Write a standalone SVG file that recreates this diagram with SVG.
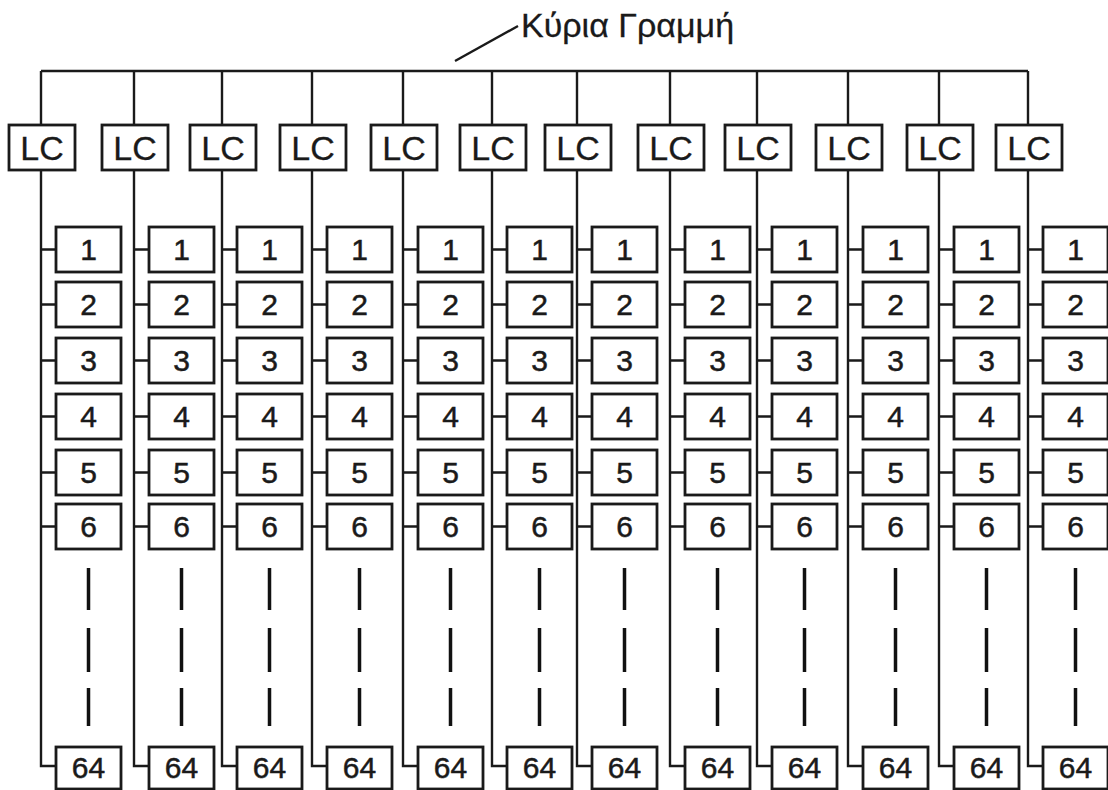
<svg xmlns="http://www.w3.org/2000/svg" width="1108" height="790" viewBox="0 0 1108 790">
<style>
.bx{fill:#fff;stroke:#1a1a1a;stroke-width:2.8}
.t{font-family:"Liberation Sans",Arial,sans-serif;font-size:30px;fill:#1a1a1a;stroke:#1a1a1a;stroke-width:0.5;text-anchor:middle}
.lc{font-size:34px;stroke-width:0.3}
.ttl{font-size:34px;text-anchor:start;stroke-width:0.3}
.ln{fill:none;stroke:#1a1a1a;stroke-width:2.4}
.ds{fill:none;stroke:#111;stroke-width:3.5}
</style>
<rect width="1108" height="790" fill="#fff"/>
<g id="title">
<line class="ln" x1="455" y1="61" x2="518" y2="26"/>
<text class="t ttl" x="521" y="37">Κύρια Γραμμή</text>
</g>
<g id="connectors">
<path class="ln" d="M41 71H1028"/>
<path class="ln" d="M41 71V125M41 170V766H56M41 249.5H56M41 304.5H56M41 360.5H56M41 416.5H56M41 472.5H56M41 526.5H56"/>
<path class="ln" d="M134 71V125M134 170V766H149M134 249.5H149M134 304.5H149M134 360.5H149M134 416.5H149M134 472.5H149M134 526.5H149"/>
<path class="ln" d="M222 71V125M222 170V766H237M222 249.5H237M222 304.5H237M222 360.5H237M222 416.5H237M222 472.5H237M222 526.5H237"/>
<path class="ln" d="M312 71V125M312 170V766H327M312 249.5H327M312 304.5H327M312 360.5H327M312 416.5H327M312 472.5H327M312 526.5H327"/>
<path class="ln" d="M403 71V125M403 170V766H418M403 249.5H418M403 304.5H418M403 360.5H418M403 416.5H418M403 472.5H418M403 526.5H418"/>
<path class="ln" d="M492 71V125M492 170V766H507M492 249.5H507M492 304.5H507M492 360.5H507M492 416.5H507M492 472.5H507M492 526.5H507"/>
<path class="ln" d="M577 71V125M577 170V766H592M577 249.5H592M577 304.5H592M577 360.5H592M577 416.5H592M577 472.5H592M577 526.5H592"/>
<path class="ln" d="M670 71V125M670 170V766H685M670 249.5H685M670 304.5H685M670 360.5H685M670 416.5H685M670 472.5H685M670 526.5H685"/>
<path class="ln" d="M757 71V125M757 170V766H772M757 249.5H772M757 304.5H772M757 360.5H772M757 416.5H772M757 472.5H772M757 526.5H772"/>
<path class="ln" d="M848 71V125M848 170V766H863M848 249.5H863M848 304.5H863M848 360.5H863M848 416.5H863M848 472.5H863M848 526.5H863"/>
<path class="ln" d="M939 71V125M939 170V766H954M939 249.5H954M939 304.5H954M939 360.5H954M939 416.5H954M939 472.5H954M939 526.5H954"/>
<path class="ln" d="M1028 71V125M1028 170V766H1043M1028 249.5H1043M1028 304.5H1043M1028 360.5H1043M1028 416.5H1043M1028 472.5H1043M1028 526.5H1043"/>
</g>
<g id="continuation">
<path class="ds" d="M88.5 568V610M88.5 628V672M88.5 688V726M181.5 568V610M181.5 628V672M181.5 688V726M269.5 568V610M269.5 628V672M269.5 688V726M359.5 568V610M359.5 628V672M359.5 688V726M450.5 568V610M450.5 628V672M450.5 688V726M539.5 568V610M539.5 628V672M539.5 688V726M624.5 568V610M624.5 628V672M624.5 688V726M717.5 568V610M717.5 628V672M717.5 688V726M804.5 568V610M804.5 628V672M804.5 688V726M895.5 568V610M895.5 628V672M895.5 688V726M986.5 568V610M986.5 628V672M986.5 688V726M1075.5 568V610M1075.5 628V672M1075.5 688V726"/>
</g>
<g id="c1">
<g id="c1-lc"><rect class="bx" x="9" y="125" width="66" height="45"/><text class="t lc" x="42" y="160">LC</text></g>
<g id="c1-1"><rect class="bx" x="56" y="227" width="65" height="45"/><text class="t" x="88.5" y="260">1</text></g>
<g id="c1-2"><rect class="bx" x="56" y="282" width="65" height="45"/><text class="t" x="88.5" y="315">2</text></g>
<g id="c1-3"><rect class="bx" x="56" y="338" width="65" height="45"/><text class="t" x="88.5" y="371">3</text></g>
<g id="c1-4"><rect class="bx" x="56" y="394" width="65" height="45"/><text class="t" x="88.5" y="427">4</text></g>
<g id="c1-5"><rect class="bx" x="56" y="450" width="65" height="45"/><text class="t" x="88.5" y="483">5</text></g>
<g id="c1-6"><rect class="bx" x="56" y="504" width="65" height="45"/><text class="t" x="88.5" y="537">6</text></g>
<g id="c1-64"><rect class="bx" x="56" y="747" width="65" height="42"/><text class="t" x="88.5" y="778">64</text></g>
</g>
<g id="c2">
<g id="c2-lc"><rect class="bx" x="102" y="125" width="66" height="45"/><text class="t lc" x="135" y="160">LC</text></g>
<g id="c2-1"><rect class="bx" x="149" y="227" width="65" height="45"/><text class="t" x="181.5" y="260">1</text></g>
<g id="c2-2"><rect class="bx" x="149" y="282" width="65" height="45"/><text class="t" x="181.5" y="315">2</text></g>
<g id="c2-3"><rect class="bx" x="149" y="338" width="65" height="45"/><text class="t" x="181.5" y="371">3</text></g>
<g id="c2-4"><rect class="bx" x="149" y="394" width="65" height="45"/><text class="t" x="181.5" y="427">4</text></g>
<g id="c2-5"><rect class="bx" x="149" y="450" width="65" height="45"/><text class="t" x="181.5" y="483">5</text></g>
<g id="c2-6"><rect class="bx" x="149" y="504" width="65" height="45"/><text class="t" x="181.5" y="537">6</text></g>
<g id="c2-64"><rect class="bx" x="149" y="747" width="65" height="42"/><text class="t" x="181.5" y="778">64</text></g>
</g>
<g id="c3">
<g id="c3-lc"><rect class="bx" x="190" y="125" width="66" height="45"/><text class="t lc" x="223" y="160">LC</text></g>
<g id="c3-1"><rect class="bx" x="237" y="227" width="65" height="45"/><text class="t" x="269.5" y="260">1</text></g>
<g id="c3-2"><rect class="bx" x="237" y="282" width="65" height="45"/><text class="t" x="269.5" y="315">2</text></g>
<g id="c3-3"><rect class="bx" x="237" y="338" width="65" height="45"/><text class="t" x="269.5" y="371">3</text></g>
<g id="c3-4"><rect class="bx" x="237" y="394" width="65" height="45"/><text class="t" x="269.5" y="427">4</text></g>
<g id="c3-5"><rect class="bx" x="237" y="450" width="65" height="45"/><text class="t" x="269.5" y="483">5</text></g>
<g id="c3-6"><rect class="bx" x="237" y="504" width="65" height="45"/><text class="t" x="269.5" y="537">6</text></g>
<g id="c3-64"><rect class="bx" x="237" y="747" width="65" height="42"/><text class="t" x="269.5" y="778">64</text></g>
</g>
<g id="c4">
<g id="c4-lc"><rect class="bx" x="280" y="125" width="66" height="45"/><text class="t lc" x="313" y="160">LC</text></g>
<g id="c4-1"><rect class="bx" x="327" y="227" width="65" height="45"/><text class="t" x="359.5" y="260">1</text></g>
<g id="c4-2"><rect class="bx" x="327" y="282" width="65" height="45"/><text class="t" x="359.5" y="315">2</text></g>
<g id="c4-3"><rect class="bx" x="327" y="338" width="65" height="45"/><text class="t" x="359.5" y="371">3</text></g>
<g id="c4-4"><rect class="bx" x="327" y="394" width="65" height="45"/><text class="t" x="359.5" y="427">4</text></g>
<g id="c4-5"><rect class="bx" x="327" y="450" width="65" height="45"/><text class="t" x="359.5" y="483">5</text></g>
<g id="c4-6"><rect class="bx" x="327" y="504" width="65" height="45"/><text class="t" x="359.5" y="537">6</text></g>
<g id="c4-64"><rect class="bx" x="327" y="747" width="65" height="42"/><text class="t" x="359.5" y="778">64</text></g>
</g>
<g id="c5">
<g id="c5-lc"><rect class="bx" x="371" y="125" width="66" height="45"/><text class="t lc" x="404" y="160">LC</text></g>
<g id="c5-1"><rect class="bx" x="418" y="227" width="65" height="45"/><text class="t" x="450.5" y="260">1</text></g>
<g id="c5-2"><rect class="bx" x="418" y="282" width="65" height="45"/><text class="t" x="450.5" y="315">2</text></g>
<g id="c5-3"><rect class="bx" x="418" y="338" width="65" height="45"/><text class="t" x="450.5" y="371">3</text></g>
<g id="c5-4"><rect class="bx" x="418" y="394" width="65" height="45"/><text class="t" x="450.5" y="427">4</text></g>
<g id="c5-5"><rect class="bx" x="418" y="450" width="65" height="45"/><text class="t" x="450.5" y="483">5</text></g>
<g id="c5-6"><rect class="bx" x="418" y="504" width="65" height="45"/><text class="t" x="450.5" y="537">6</text></g>
<g id="c5-64"><rect class="bx" x="418" y="747" width="65" height="42"/><text class="t" x="450.5" y="778">64</text></g>
</g>
<g id="c6">
<g id="c6-lc"><rect class="bx" x="460" y="125" width="66" height="45"/><text class="t lc" x="493" y="160">LC</text></g>
<g id="c6-1"><rect class="bx" x="507" y="227" width="65" height="45"/><text class="t" x="539.5" y="260">1</text></g>
<g id="c6-2"><rect class="bx" x="507" y="282" width="65" height="45"/><text class="t" x="539.5" y="315">2</text></g>
<g id="c6-3"><rect class="bx" x="507" y="338" width="65" height="45"/><text class="t" x="539.5" y="371">3</text></g>
<g id="c6-4"><rect class="bx" x="507" y="394" width="65" height="45"/><text class="t" x="539.5" y="427">4</text></g>
<g id="c6-5"><rect class="bx" x="507" y="450" width="65" height="45"/><text class="t" x="539.5" y="483">5</text></g>
<g id="c6-6"><rect class="bx" x="507" y="504" width="65" height="45"/><text class="t" x="539.5" y="537">6</text></g>
<g id="c6-64"><rect class="bx" x="507" y="747" width="65" height="42"/><text class="t" x="539.5" y="778">64</text></g>
</g>
<g id="c7">
<g id="c7-lc"><rect class="bx" x="545" y="125" width="66" height="45"/><text class="t lc" x="578" y="160">LC</text></g>
<g id="c7-1"><rect class="bx" x="592" y="227" width="65" height="45"/><text class="t" x="624.5" y="260">1</text></g>
<g id="c7-2"><rect class="bx" x="592" y="282" width="65" height="45"/><text class="t" x="624.5" y="315">2</text></g>
<g id="c7-3"><rect class="bx" x="592" y="338" width="65" height="45"/><text class="t" x="624.5" y="371">3</text></g>
<g id="c7-4"><rect class="bx" x="592" y="394" width="65" height="45"/><text class="t" x="624.5" y="427">4</text></g>
<g id="c7-5"><rect class="bx" x="592" y="450" width="65" height="45"/><text class="t" x="624.5" y="483">5</text></g>
<g id="c7-6"><rect class="bx" x="592" y="504" width="65" height="45"/><text class="t" x="624.5" y="537">6</text></g>
<g id="c7-64"><rect class="bx" x="592" y="747" width="65" height="42"/><text class="t" x="624.5" y="778">64</text></g>
</g>
<g id="c8">
<g id="c8-lc"><rect class="bx" x="638" y="125" width="66" height="45"/><text class="t lc" x="671" y="160">LC</text></g>
<g id="c8-1"><rect class="bx" x="685" y="227" width="65" height="45"/><text class="t" x="717.5" y="260">1</text></g>
<g id="c8-2"><rect class="bx" x="685" y="282" width="65" height="45"/><text class="t" x="717.5" y="315">2</text></g>
<g id="c8-3"><rect class="bx" x="685" y="338" width="65" height="45"/><text class="t" x="717.5" y="371">3</text></g>
<g id="c8-4"><rect class="bx" x="685" y="394" width="65" height="45"/><text class="t" x="717.5" y="427">4</text></g>
<g id="c8-5"><rect class="bx" x="685" y="450" width="65" height="45"/><text class="t" x="717.5" y="483">5</text></g>
<g id="c8-6"><rect class="bx" x="685" y="504" width="65" height="45"/><text class="t" x="717.5" y="537">6</text></g>
<g id="c8-64"><rect class="bx" x="685" y="747" width="65" height="42"/><text class="t" x="717.5" y="778">64</text></g>
</g>
<g id="c9">
<g id="c9-lc"><rect class="bx" x="725" y="125" width="66" height="45"/><text class="t lc" x="758" y="160">LC</text></g>
<g id="c9-1"><rect class="bx" x="772" y="227" width="65" height="45"/><text class="t" x="804.5" y="260">1</text></g>
<g id="c9-2"><rect class="bx" x="772" y="282" width="65" height="45"/><text class="t" x="804.5" y="315">2</text></g>
<g id="c9-3"><rect class="bx" x="772" y="338" width="65" height="45"/><text class="t" x="804.5" y="371">3</text></g>
<g id="c9-4"><rect class="bx" x="772" y="394" width="65" height="45"/><text class="t" x="804.5" y="427">4</text></g>
<g id="c9-5"><rect class="bx" x="772" y="450" width="65" height="45"/><text class="t" x="804.5" y="483">5</text></g>
<g id="c9-6"><rect class="bx" x="772" y="504" width="65" height="45"/><text class="t" x="804.5" y="537">6</text></g>
<g id="c9-64"><rect class="bx" x="772" y="747" width="65" height="42"/><text class="t" x="804.5" y="778">64</text></g>
</g>
<g id="c10">
<g id="c10-lc"><rect class="bx" x="816" y="125" width="66" height="45"/><text class="t lc" x="849" y="160">LC</text></g>
<g id="c10-1"><rect class="bx" x="863" y="227" width="65" height="45"/><text class="t" x="895.5" y="260">1</text></g>
<g id="c10-2"><rect class="bx" x="863" y="282" width="65" height="45"/><text class="t" x="895.5" y="315">2</text></g>
<g id="c10-3"><rect class="bx" x="863" y="338" width="65" height="45"/><text class="t" x="895.5" y="371">3</text></g>
<g id="c10-4"><rect class="bx" x="863" y="394" width="65" height="45"/><text class="t" x="895.5" y="427">4</text></g>
<g id="c10-5"><rect class="bx" x="863" y="450" width="65" height="45"/><text class="t" x="895.5" y="483">5</text></g>
<g id="c10-6"><rect class="bx" x="863" y="504" width="65" height="45"/><text class="t" x="895.5" y="537">6</text></g>
<g id="c10-64"><rect class="bx" x="863" y="747" width="65" height="42"/><text class="t" x="895.5" y="778">64</text></g>
</g>
<g id="c11">
<g id="c11-lc"><rect class="bx" x="907" y="125" width="66" height="45"/><text class="t lc" x="940" y="160">LC</text></g>
<g id="c11-1"><rect class="bx" x="954" y="227" width="65" height="45"/><text class="t" x="986.5" y="260">1</text></g>
<g id="c11-2"><rect class="bx" x="954" y="282" width="65" height="45"/><text class="t" x="986.5" y="315">2</text></g>
<g id="c11-3"><rect class="bx" x="954" y="338" width="65" height="45"/><text class="t" x="986.5" y="371">3</text></g>
<g id="c11-4"><rect class="bx" x="954" y="394" width="65" height="45"/><text class="t" x="986.5" y="427">4</text></g>
<g id="c11-5"><rect class="bx" x="954" y="450" width="65" height="45"/><text class="t" x="986.5" y="483">5</text></g>
<g id="c11-6"><rect class="bx" x="954" y="504" width="65" height="45"/><text class="t" x="986.5" y="537">6</text></g>
<g id="c11-64"><rect class="bx" x="954" y="747" width="65" height="42"/><text class="t" x="986.5" y="778">64</text></g>
</g>
<g id="c12">
<g id="c12-lc"><rect class="bx" x="996" y="125" width="66" height="45"/><text class="t lc" x="1029" y="160">LC</text></g>
<g id="c12-1"><rect class="bx" x="1043" y="227" width="65" height="45"/><text class="t" x="1075.5" y="260">1</text></g>
<g id="c12-2"><rect class="bx" x="1043" y="282" width="65" height="45"/><text class="t" x="1075.5" y="315">2</text></g>
<g id="c12-3"><rect class="bx" x="1043" y="338" width="65" height="45"/><text class="t" x="1075.5" y="371">3</text></g>
<g id="c12-4"><rect class="bx" x="1043" y="394" width="65" height="45"/><text class="t" x="1075.5" y="427">4</text></g>
<g id="c12-5"><rect class="bx" x="1043" y="450" width="65" height="45"/><text class="t" x="1075.5" y="483">5</text></g>
<g id="c12-6"><rect class="bx" x="1043" y="504" width="65" height="45"/><text class="t" x="1075.5" y="537">6</text></g>
<g id="c12-64"><rect class="bx" x="1043" y="747" width="65" height="42"/><text class="t" x="1075.5" y="778">64</text></g>
</g>
</svg>
